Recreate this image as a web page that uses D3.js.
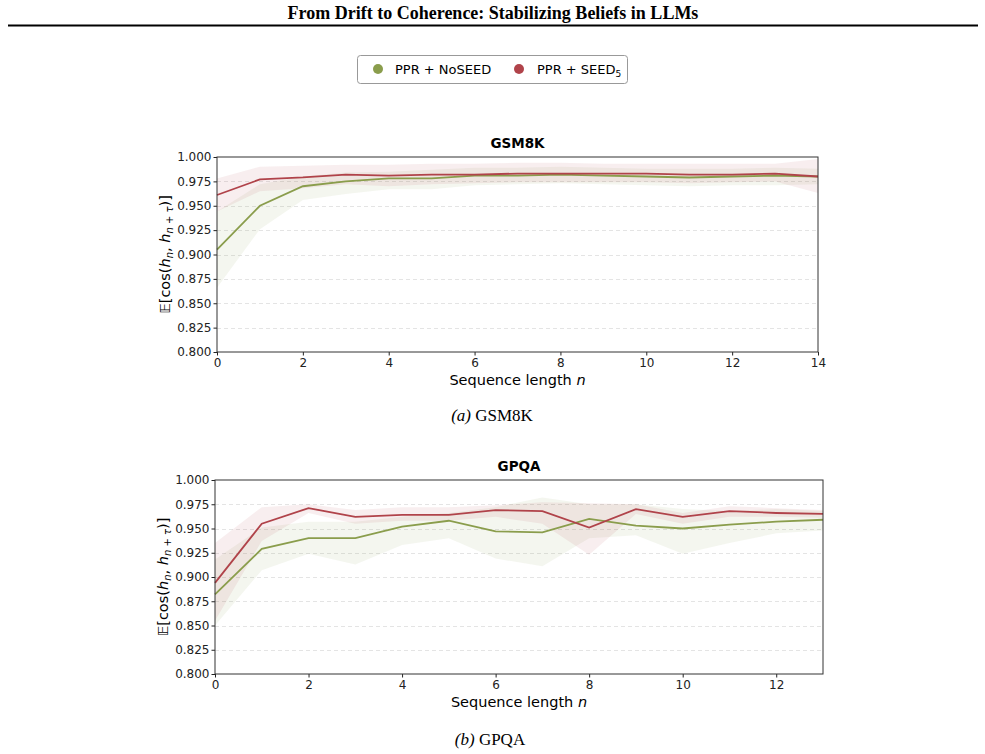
<!DOCTYPE html>
<html>
<head>
<meta charset="utf-8">
<title>From Drift to Coherence</title>
<script src="https://d3js.org/d3.v7.min.js"></script>
<style>
  body { margin: 0; background: #fff; }
  .tick text { font-family: "DejaVu Sans", sans-serif; font-size: 12px; fill: #222; }
  .serif { font-family: "Liberation Serif", "Times New Roman", serif; }
  .sans { font-family: "DejaVu Sans", sans-serif; }
</style>
</head>
<body>
<svg id="fig" width="985" height="754"></svg>
<script>
// ---- data ----
var gsmSteps = [0, 1, 2, 3, 4, 5, 6, 7, 8, 9, 10, 11, 12, 13, 14];
var gsmNoSeed   = [0.905, 0.950, 0.970, 0.975, 0.978, 0.978, 0.981, 0.981, 0.982, 0.981, 0.980, 0.979, 0.980, 0.981, 0.980];
var gsmNoSeedLo = [0.866, 0.926, 0.956, 0.962, 0.967, 0.967, 0.971, 0.972, 0.973, 0.972, 0.971, 0.970, 0.971, 0.971, 0.972];
var gsmNoSeedHi = [0.944, 0.972, 0.980, 0.984, 0.985, 0.987, 0.989, 0.989, 0.990, 0.989, 0.988, 0.988, 0.988, 0.989, 0.988];
var gsmSeed     = [0.961, 0.977, 0.979, 0.982, 0.981, 0.982, 0.982, 0.983, 0.983, 0.983, 0.983, 0.982, 0.982, 0.983, 0.980];
var gsmSeedLo   = [0.944, 0.965, 0.968, 0.972, 0.970, 0.972, 0.973, 0.974, 0.974, 0.974, 0.974, 0.973, 0.974, 0.975, 0.963];
var gsmSeedHi   = [0.978, 0.990, 0.991, 0.992, 0.992, 0.993, 0.993, 0.994, 0.994, 0.993, 0.993, 0.993, 0.993, 0.993, 0.998];

var gpqaSteps = [0, 1, 2, 3, 4, 5, 6, 7, 8, 9, 10, 11, 12, 13];
var gpqaNoSeed   = [0.882, 0.929, 0.940, 0.940, 0.952, 0.958, 0.947, 0.946, 0.960, 0.953, 0.950, 0.954, 0.957, 0.959];
var gpqaNoSeedLo = [0.850, 0.907, 0.924, 0.913, 0.933, 0.940, 0.919, 0.911, 0.940, 0.943, 0.924, 0.935, 0.945, 0.948];
var gpqaNoSeedHi = [0.918, 0.951, 0.957, 0.957, 0.962, 0.966, 0.972, 0.982, 0.975, 0.975, 0.970, 0.968, 0.970, 0.968];
var gpqaSeed     = [0.894, 0.955, 0.971, 0.962, 0.964, 0.964, 0.969, 0.968, 0.951, 0.970, 0.962, 0.968, 0.966, 0.965];
var gpqaSeedLo   = [0.855, 0.937, 0.966, 0.955, 0.958, 0.958, 0.962, 0.955, 0.923, 0.965, 0.955, 0.962, 0.962, 0.961];
var gpqaSeedHi   = [0.935, 0.972, 0.975, 0.969, 0.972, 0.972, 0.974, 0.977, 0.976, 0.975, 0.966, 0.973, 0.971, 0.969];

var yTicks = [0.800, 0.825, 0.850, 0.875, 0.900, 0.925, 0.950, 0.975, 1.000];

var greenColor = "#8a9d4c";
var redColor = "#b0434a";

var svg = d3.select("#fig");

// page header
svg.append("text").attr("class", "serif")
  .attr("x", 493).attr("y", 19).attr("text-anchor", "middle")
  .attr("font-size", 18).attr("font-weight", "bold")
  .text("From Drift to Coherence: Stabilizing Beliefs in LLMs");
svg.append("line").attr("x1", 8).attr("x2", 978).attr("y1", 25.5).attr("y2", 25.5)
  .attr("stroke", "#000").attr("stroke-width", 2);

// legend
var leg = svg.append("g");
leg.append("rect").attr("x", 357.5).attr("y", 55.5).attr("width", 270).attr("height", 28)
  .attr("rx", 3).attr("fill", "#fff").attr("stroke", "#999");
leg.append("circle").attr("cx", 378).attr("cy", 69).attr("r", 5).attr("fill", greenColor);
leg.append("text").attr("class", "sans").attr("x", 395).attr("y", 73.5).attr("font-size", 13)
  .text("PPR + NoSEED");
leg.append("circle").attr("cx", 519).attr("cy", 69).attr("r", 5).attr("fill", redColor);
var lt = leg.append("text").attr("class", "sans").attr("x", 537).attr("y", 73.5).attr("font-size", 13);
lt.append("tspan").text("PPR + SEED");
lt.append("tspan").attr("font-size", 9).attr("dy", 3).text("5");

function drawPanel(cfg) {
  var g = svg.append("g");
  var x = d3.scaleLinear().domain([0, cfg.xMax]).range([cfg.left, cfg.right]);
  var y = d3.scaleLinear().domain([0.8, 1.0]).range([cfg.bottom, cfg.top]);

  // grid
  g.append("g").selectAll("line").data(yTicks.slice(1, -1)).join("line")
    .attr("x1", cfg.left).attr("x2", cfg.right)
    .attr("y1", d => Math.round(y(d)) + 0.5).attr("y2", d => Math.round(y(d)) + 0.5)
    .attr("stroke", "#ddd").attr("stroke-width", 0.8).attr("stroke-dasharray", "4,3");

  var area = d3.area().x(d => x(d.n)).y0(d => y(d.lo)).y1(d => y(d.hi));
  var line = d3.line().x(d => x(d.n)).y(d => y(d.v));

  cfg.series.forEach(function (s) {
    var rows = cfg.steps.map((n, i) => ({ n: n, v: s.mean[i], lo: s.lo[i], hi: s.hi[i] }));
    g.append("path").datum(rows).attr("d", area)
      .attr("fill", s.color).attr("fill-opacity", 0.09);
  });
  cfg.series.forEach(function (s) {
    var rows = cfg.steps.map((n, i) => ({ n: n, v: s.mean[i] }));
    g.append("path").datum(rows).attr("d", line)
      .attr("fill", "none").attr("stroke", s.color).attr("stroke-width", 1.8);
  });

  // axes
  var xAxis = d3.axisBottom(x).tickValues(cfg.xTicks).tickSize(3.5).tickPadding(3).tickFormat(d3.format("d"));
  g.append("g").attr("transform", "translate(0," + cfg.bottom + ")").call(xAxis)
    .call(a => a.select(".domain").remove());
  var yAxis = d3.axisLeft(y).tickValues(yTicks).tickSize(3.5).tickPadding(2).tickFormat(d3.format(".3f"));
  g.append("g").attr("transform", "translate(" + cfg.left + ",0)").call(yAxis)
    .call(a => a.select(".domain").remove());
  g.selectAll(".tick line").attr("stroke", "#222");

  g.append("rect").attr("x", cfg.left).attr("y", cfg.top)
    .attr("width", cfg.right - cfg.left).attr("height", cfg.bottom - cfg.top)
    .attr("fill", "none").attr("stroke", "#333").attr("stroke-width", 1);

  // title
  g.append("text").attr("class", "sans")
    .attr("x", (cfg.left + cfg.right) / 2).attr("y", cfg.top - 9)
    .attr("text-anchor", "middle").attr("font-size", 13.5).attr("font-weight", "bold")
    .text(cfg.title);

  // x label
  var xl = g.append("text").attr("class", "sans")
    .attr("x", (cfg.left + cfg.right) / 2).attr("y", cfg.bottom + 33)
    .attr("text-anchor", "middle").attr("font-size", 14.5);
  xl.append("tspan").text("Sequence length ");
  xl.append("tspan").attr("font-style", "italic").text("n");

  // y label
  var yl = g.append("text").attr("class", "sans")
    .attr("transform", "translate(" + (cfg.left - 47) + "," + ((cfg.top + cfg.bottom) / 2) + ") rotate(-90)")
    .attr("text-anchor", "middle").attr("font-size", 14.5);
  yl.append("tspan").text("\uD835\uDD3C[cos(");
  yl.append("tspan").attr("font-style", "italic").text("h");
  yl.append("tspan").attr("font-style", "italic").attr("font-size", 10).attr("dy", 3).text("n");
  yl.append("tspan").attr("dy", -3).text(", ");
  yl.append("tspan").attr("font-style", "italic").text("h");
  var sub = yl.append("tspan").attr("font-size", 10).attr("dy", 3);
  sub.append("tspan").attr("font-style", "italic").text("n");
  sub.append("tspan").text(" + ");
  sub.append("tspan").attr("font-style", "italic").text("\u03C4");
  yl.append("tspan").attr("dy", -3).text(")]");

  // caption
  var cap = g.append("text").attr("class", "serif")
    .attr("x", cfg.capX).attr("y", cfg.capY).attr("text-anchor", "middle").attr("font-size", 17);
  cap.append("tspan").attr("font-style", "italic").text(cfg.capTag);
  cap.append("tspan").text(" " + cfg.title);
}

drawPanel({
  title: "GSM8K", capTag: "(a)", capX: 492, capY: 421,
  left: 217, right: 818, top: 157, bottom: 352,
  xMax: 14, xTicks: [0, 2, 4, 6, 8, 10, 12, 14], steps: gsmSteps,
  series: [
    { color: greenColor, mean: gsmNoSeed, lo: gsmNoSeedLo, hi: gsmNoSeedHi },
    { color: redColor, mean: gsmSeed, lo: gsmSeedLo, hi: gsmSeedHi }
  ]
});

drawPanel({
  title: "GPQA", capTag: "(b)", capX: 490, capY: 745,
  left: 215, right: 823, top: 480, bottom: 674,
  xMax: 13, xTicks: [0, 2, 4, 6, 8, 10, 12], steps: gpqaSteps,
  series: [
    { color: greenColor, mean: gpqaNoSeed, lo: gpqaNoSeedLo, hi: gpqaNoSeedHi },
    { color: redColor, mean: gpqaSeed, lo: gpqaSeedLo, hi: gpqaSeedHi }
  ]
});
</script>
</body>
</html>
